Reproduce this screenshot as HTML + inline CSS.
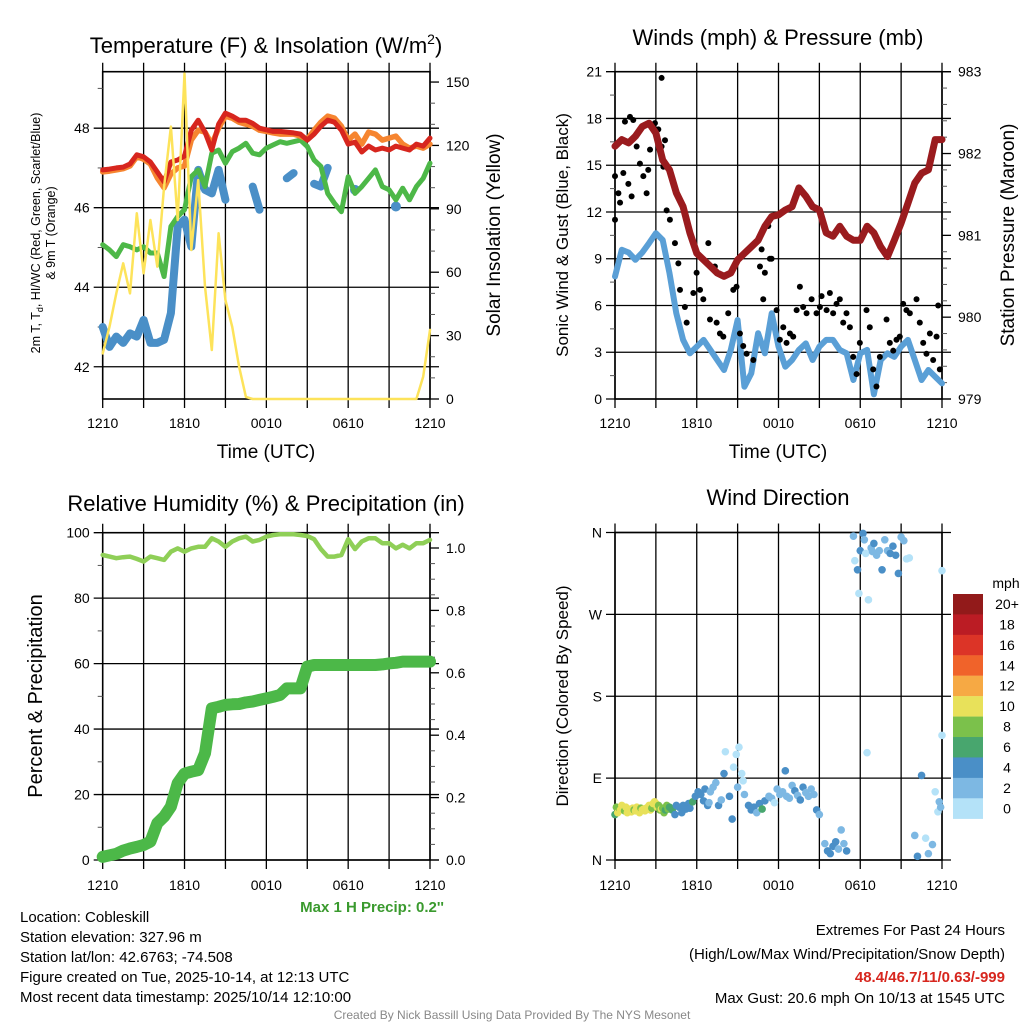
<!DOCTYPE html>
<html><head><meta charset="utf-8">
<style>
html,body{margin:0;padding:0;background:#fff;}
svg{display:block;font-family:"Liberation Sans",Arial,sans-serif;}
</style></head>
<body>
<svg id="chart" width="1024" height="1024" viewBox="0 0 1024 1024" xmlns="http://www.w3.org/2000/svg">
<g id="layer"></g>
</svg>
<script>
// ---------- DATA ----------
// half-hour grid, 0..24 h after 1210 UTC
const tempF = [46.95,46.97,47.0,47.02,47.1,47.33,47.28,47.15,46.9,46.65,47.15,47.2,47.3,47.95,48.2,47.9,47.45,48.1,48.38,48.3,48.2,48.2,48.12,48.0,47.96,47.92,47.92,47.9,47.88,47.85,47.7,47.85,48.05,48.2,48.15,47.95,47.6,47.65,47.4,47.55,47.45,47.5,47.45,47.55,47.5,47.45,47.6,47.55,47.75];
const temp9mF = [46.9,46.92,46.95,46.98,47.05,47.28,47.22,47.1,46.75,46.5,46.85,47.0,47.05,47.7,47.95,47.9,47.6,48.0,48.3,48.25,48.15,48.1,48.05,47.95,47.92,47.88,47.85,47.85,47.85,47.8,47.72,47.95,48.15,48.3,48.25,48.05,47.7,47.85,47.6,47.9,47.85,47.7,47.75,47.8,47.6,47.5,47.55,47.5,47.6];
const dewF = [45.07,44.94,44.77,45.07,45.02,44.94,45.02,44.86,44.86,44.27,45.53,45.78,45.95,46.78,46.95,46.53,47.37,47.45,47.12,47.41,47.5,47.62,47.37,47.33,47.5,47.58,47.66,47.62,47.66,47.7,47.54,47.2,47.04,46.36,46.11,45.9,46.78,46.36,46.53,46.74,46.95,46.53,46.45,46.2,46.49,46.2,46.53,46.74,47.12];
const hiwcF = [43.0,42.5,42.76,42.6,42.84,42.76,43.18,42.6,42.6,42.68,43.35,45.53,45.7,45.02,46.95,46.45,46.36,46.95,46.2,null,null,null,46.53,45.95,null,null,null,46.74,46.87,null,null,46.6,46.53,47.0,null,null,null,46.45,null,null,null,null,null,46.03,null,null,null,null,null];
const insolation = [21.6,34.2,50,64.2,50,87.9,59.5,84.7,62.6,100.5,128.9,84.7,154,70.5,103.6,53.2,23.2,78.4,46.9,34,15.3,1,0,0,0,0,0,0,0,0,0,0,0,0,0,0,0,0,0,0,0,0,0,0,0,0,0,10.6,32.7];
const sonicWind = [7.86,9.57,9.4,8.93,9.4,10.0,10.64,10.2,8.07,5.5,3.79,2.93,3.36,3.79,3.15,2.5,1.86,3.15,5.07,0.79,1.65,4.22,2.93,5.5,3.36,2.07,2.5,3.15,3.57,2.5,3.36,3.79,3.79,3.15,2.93,1.22,2.93,3.15,0.3,2.5,2.93,2.7,3.36,3.79,2.5,1.22,1.86,1.43,1.0];
const pressureMb = [982.09,982.17,982.13,982.21,982.33,982.37,982.25,981.92,981.80,981.52,981.35,981.03,980.78,980.70,980.62,980.54,980.50,980.54,980.70,980.78,980.86,980.94,981.11,981.23,981.25,981.31,981.35,981.58,981.48,981.35,981.31,981.03,980.99,981.11,980.99,980.94,980.94,981.11,981.03,980.86,980.74,980.94,981.15,981.39,981.64,981.76,981.80,982.17,982.17];
const gustHours = [0,0,0.25,0.37,0.73,1.1,1.34,1.59,0.61,0.98,1.22,1.83,2.08,2.32,2.44,2.57,2.93,3.18,3.42,3.42,3.67,3.55,3.79,4.03,4.4,4.65,4.77,5.13,5.26,5.75,5.99,6.24,6.48,6.85,6.97,7.33,7.46,7.7,7.95,8.31,8.68,8.92,9.17,9.41,9.66,10.15,10.64,10.76,11.0,11.25,11.37,11.49,10.88,11.86,12.1,12.35,12.59,12.84,13.08,13.33,13.57,13.81,14.06,14.43,14.79,15.04,15.16,15.53,15.77,16.01,16.26,16.5,16.75,16.99,17.24,17.48,17.73,17.97,18.46,18.7,18.95,19.19,19.44,19.93,20.17,20.42,20.66,20.9,21.15,21.39,21.64,22.13,22.37,22.62,22.86,23.11,23.35,23.6,23.72,23.84];
const gustMph = [11.5,14.3,13.2,12.6,17.8,18.1,17.9,16.2,14.5,13.8,13.0,15.1,14.3,13.2,14.7,16.0,17.7,17.3,20.6,16.2,16.6,14.9,12.1,11.5,10.0,8.7,7.0,5.9,4.9,6.8,8.1,7.0,6.4,10.0,5.1,8.5,4.9,4.2,4.0,5.5,7.0,7.2,4.2,3.4,2.9,2.5,8.5,9.6,8.1,11.1,9.0,9.0,6.4,5.7,3.8,4.6,3.6,4.2,4.0,5.7,7.2,5.9,5.5,6.4,5.5,5.9,6.6,5.7,6.8,5.5,6.1,6.4,4.9,5.5,4.6,2.7,1.6,3.6,5.7,4.6,1.9,0.8,2.7,5.1,3.6,3.1,3.8,4.0,6.1,5.7,5.5,6.4,4.9,3.6,2.9,4.2,2.5,4.0,6.0,1.9];
const rhPct = [93.2,92.7,92.2,92.5,92.7,92.0,91.2,92.7,92.2,91.7,94.2,95.2,94.2,95.2,95.7,95.7,98.3,97.3,95.7,97.3,98.3,98.8,97.3,97.8,98.8,99.3,99.5,99.5,99.5,99.3,99.0,98.0,95.0,92.7,92.7,93.2,98.0,95.0,97.3,98.3,98.3,96.8,96.8,95.2,96.3,95.2,96.8,96.8,97.8];
const precipIn = [0.01,0.015,0.02,0.03,0.037,0.042,0.048,0.059,0.118,0.139,0.171,0.246,0.277,0.283,0.288,0.342,0.486,0.491,0.497,0.499,0.50,0.505,0.508,0.513,0.518,0.523,0.529,0.550,0.550,0.550,0.620,0.625,0.625,0.625,0.625,0.625,0.625,0.625,0.625,0.625,0.625,0.627,0.63,0.632,0.636,0.636,0.636,0.636,0.636];
const dirHours = [0,0.1,0.2,0.3,0.4,0.5,0.6,0.7,0.8,0.9,1.0,1.1,1.2,1.3,1.4,1.5,1.6,1.7,1.8,1.9,2.0,2.1,2.2,2.3,2.4,2.5,2.6,2.7,2.8,2.9,3.0,3.1,3.2,3.3,3.4,3.5,3.6,3.7,3.8,3.9,4.0,4.2,4.4,4.5,4.7,4.9,5.0,5.2,5.4,5.5,5.7,5.9,6.1,6.3,6.5,6.6,6.8,6.9,7.0,7.2,7.4,7.6,7.8,8.0,8.1,8.4,8.6,8.7,8.9,9.0,9.1,9.3,9.4,9.5,9.8,10.0,10.2,10.4,10.6,10.8,11.0,11.3,11.5,11.7,11.9,12.1,12.3,12.5,12.6,12.8,13.0,13.2,13.4,13.6,13.8,14.0,14.2,14.4,14.6,14.8,15.0,15.4,15.6,15.8,16.0,16.2,16.4,16.6,16.8,17.0,17.5,17.6,17.8,17.9,18.0,18.2,18.3,18.4,18.6,18.8,18.9,19.0,19.2,19.4,19.6,19.8,20.0,20.2,20.4,20.6,20.8,21.0,21.2,21.4,21.6,18.5,22.0,22.2,22.5,22.8,23.0,23.3,23.5,23.7,23.8,23.9,24.0,24.0];
const dirDeg = [50,58,52,57,55,60,56,54,58,52,56,55,53,57,55,54,58,56,52,57,55,56,54,57,58,60,55,57,62,64,62,58,60,55,56,57,52,55,60,56,58,55,50,60,58,52,60,56,62,57,64,70,75,72,65,78,60,63,75,80,85,60,66,95,119,70,45,102,116,80,124,95,87,72,60,55,58,52,62,56,65,70,68,63,78,72,75,98,70,68,82,76,71,66,80,74,70,78,72,55,50,18,10,7,15,20,12,33,18,10,356,329,319,293,340,359,352,337,286,343,339,348,335,340,319,352,340,337,345,335,315,355,351,331,332,118,27,4,93,24,7,17,75,53,64,58,137,318];
const dirSpeed = [7,8,10,9,10,11,10,9,10,11,10,10,11,10,9,10,11,10,10,9,10,11,10,10,11,10,10,9,11,10,11,10,9,8,10,9,8,7,9,8,7,6.5,5,5,4.5,5,4.5,5,4.5,5,6.5,5,4.5,5,5,4.5,5,3,3,3,3,4.5,3,4.5,1,4.5,5,1,1,3,1,1,1,3,5,5,4.5,3,5,7,4.5,3,3,1,3,3,3,4.5,3,3,3,4.5,3,4.5,4.5,3,3,3,3,4.5,3,3,4.5,4.5,4.5,4.5,3,3,3,4.5,3,1,4.5,1,4.5,4.5,3,1,1,3,3,4.5,3,3,4.5,3,3,4.5,4.5,4.5,4.5,3,3,1,1,1,3,4.5,4.5,1,3,3,1,1,3,3,1,1];
const speedBins = ["0","2","4","6","8","10","12","14","16","18","20+"];
const speedColors = ["#b4e2f8","#7db8e3","#4a8fc7","#48a66e","#7bc14b","#e8e15a","#f6a944","#f0632a","#dc3427","#bb1c24","#921a1a"];
const tempTicks = [42,44,46,48];
const insolTicks = [0,30,60,90,120,150];
const windTicks = [0,3,6,9,12,15,18,21];
const presTicks = [979,980,981,982,983];
const rhTicks = [0,20,40,60,80,100];
const precipTicks = [0.0,0.2,0.4,0.6,0.8,1.0];
const dirTicks = [0,90,180,270,360];
const dirTickLabels = ["N","E","S","W","N"];
const timeLabels = ["1210","1810","0010","0610","1210"];

// ---------- HELPERS ----------
const NS="http://www.w3.org/2000/svg";
const root=document.getElementById('layer');
function mk(tag, attrs, parent){const e=document.createElementNS(NS,tag);for(const k in attrs)e.setAttribute(k,attrs[k]);(parent||root).appendChild(e);return e;}
function txt(s, attrs, parent){const e=mk('text',attrs,parent);e.textContent=s;return e;}

const P1={L:102.7,R:430,T:71.7,B:399};
const P2={L:615,R:942,T:71.7,B:399};
const P3={L:102.7,R:430,T:532.7,B:860};
const P4={L:615,R:942,T:532.5,B:860};
function xS(P,h){return P.L+h*(P.R-P.L)/24;}
const t1=v=>P1.B-(v-41.19)/(49.42-41.19)*(P1.B-P1.T);
const s1=v=>P1.B-v*2.113;
const w2=v=>P2.B-v*(P2.B-P2.T)/21;
const p2=v=>P2.B-(v-979)*(P2.B-P2.T)/4;
const rh3=v=>P3.B-v*(P3.B-P3.T)/100;
const pr3=v=>P3.B-v*312;
const d4=v=>P4.B-v*(P4.B-P4.T)/360;

function grid(P,g,yVals,yS){
  for(let i=0;i<=8;i++){const x=P.L+i*(P.R-P.L)/8;
    const l=mk('line',{x1:x,x2:x,y1:P.T-9,y2:P.B+9,stroke:'#000','stroke-width':1.3},g);
    
    }
  yVals.forEach(v=>{const y=yS(v);
    const l=mk('line',{x1:P.L-9,x2:P.R+9,y1:y,y2:y,stroke:'#000','stroke-width':1.3},g);
    
    });
  const b=mk('rect',{x:P.L,y:P.T,width:P.R-P.L,height:P.B-P.T,fill:'none',stroke:'#000','stroke-width':1.6},g);
  
  
}
function minorTicks(g,x,dir,vals,yS){
  vals.forEach(v=>{const y=yS(v);
    const l=mk('line',{x1:x,x2:x+dir*5,y1:y,y2:y,stroke:'#555','stroke-width':1},g);
    
    });
}
function majorTicksR(g,P,vals,yS,labels){
  vals.forEach((v,i)=>{const y=yS(v);
    const l=mk('line',{x1:P.R,x2:P.R+9,y1:y,y2:y,stroke:'#000','stroke-width':1.3},g);
    
    
    const t=txt(labels[i],{x:P.R+16,y:y+5,'font-size':14},g);
    
    });
}
function leftLabels(g,P,vals,yS,labels){
  vals.forEach((v,i)=>{const t=txt(labels[i],{x:P.L-13,y:yS(v)+5,'font-size':14,'text-anchor':'end'},g);
    
    });
}
function timeAxis(g,P,yy){
  timeLabels.forEach((s,i)=>{const t=txt(s,{x:xS(P,i*6),y:yy,'font-size':14,'text-anchor':'middle'},g);
    
    });
}
function linePath(vals,P,yS){
  let d='',pen=false,singles=[];
  vals.forEach((v,i)=>{
    if(v===null){pen=false;return;}
    const x=xS(P,i*0.5),y=yS(v);
    const prevNull=(i===0||vals[i-1]===null), nextNull=(i===vals.length-1||vals[i+1]===null);
    if(prevNull&&nextNull)singles.push([x,y]);
    d+=(pen?'L':'M')+x.toFixed(1)+','+y.toFixed(1);pen=true;});
  return {d,singles};
}
function drawLine(g,vals,P,yS,color,w,name){
  const r=linePath(vals,P,yS);
  const p=mk('path',{d:r.d,fill:'none',stroke:color,'stroke-width':w,'stroke-linejoin':'round','stroke-linecap':'round'},g);
  
  
  r.singles.forEach(s=>{const c=mk('circle',{cx:s[0],cy:s[1],r:w/2+1,fill:color},g);
    
    });
}
function title(s,x,y,size){const t=txt(s,{x:x,y:y,'font-size':size,'text-anchor':'middle'});return t;}
function rotLabel(s,x,y,size,g){const t=txt(s,{x:0,y:0,'font-size':size,'text-anchor':'middle',transform:`translate(${x},${y}) rotate(-90)`},g);return t;}

// ---------- PANEL 1 ----------
const g1=mk('g',{});


grid(P1,g1,tempTicks,t1);
minorTicks(g1,P1.L,-1,[43,45,47,49],t1);
minorTicks(g1,P1.R,1,[10,20,40,50,70,80,100,110,130,140],s1);
leftLabels(g1,P1,tempTicks,t1,tempTicks.map(String));
majorTicksR(g1,P1,insolTicks,s1,insolTicks.map(String));
timeAxis(g1,P1,428);
drawLine(g1,hiwcF,P1,t1,'#4a8fc7',8,'hiwc-line');
drawLine(g1,dewF,P1,t1,'#4db848',5,'dewpoint-line');
drawLine(g1,temp9mF,P1,t1,'#f68530',5.5,'temp-9m-line');
drawLine(g1,tempF,P1,t1,'#d7261e',5,'temp-2m-line');
drawLine(g1,insolation,P1,s1,'#fde35a',2.5,'insolation-line');
const tt1=txt('',{x:266,y:53,'font-size':22,'text-anchor':'middle'});
tt1.innerHTML='Temperature (F) &amp; Insolation (W/m<tspan dy="-9" font-size="14">2</tspan><tspan dy="9">)</tspan>';


const xt1=txt('Time (UTC)',{x:266,y:458,'font-size':19,'text-anchor':'middle'});


const yl1=txt('',{x:0,y:0,'font-size':12.5,'text-anchor':'middle',transform:'translate(40,233) rotate(-90)'});
yl1.innerHTML='2m T, T<tspan dy="3" font-size="9">d</tspan><tspan dy="-3">, HI/WC (Red, Green, Scarlet/Blue)</tspan>';


const yl1b=rotLabel('& 9m T (Orange)',55,233,12.5);


const yr1=txt('Solar Insolation (Yellow)',{x:0,y:0,'font-size':19,'text-anchor':'middle',transform:'translate(500,235) rotate(-90)'});



// ---------- PANEL 2 ----------
const g2=mk('g',{});


grid(P2,g2,windTicks,w2);
minorTicks(g2,P2.L,-1,[1.5,4.5,7.5,10.5,13.5,16.5,19.5],w2);
minorTicks(g2,P2.R,1,[979.2,979.4,979.6,979.8,980.2,980.4,980.6,980.8,981.2,981.4,981.6,981.8,982.2,982.4,982.6,982.8],p2);
leftLabels(g2,P2,windTicks,w2,windTicks.map(String));
majorTicksR(g2,P2,presTicks,p2,presTicks.map(String));
timeAxis(g2,P2,428);
drawLine(g2,sonicWind,P2,w2,'#5a9fd6',6,'sonic-wind-line');
gustHours.forEach((h,i)=>{const c=mk('circle',{cx:xS(P2,h),cy:w2(gustMph[i]),r:3,fill:'#000'},g2);
  
  });
drawLine(g2,pressureMb,P2,p2,'#9a1b1e',7,'pressure-line');
const tt2=title('Winds (mph) & Pressure (mb)',778,45,22);


const xt2=txt('Time (UTC)',{x:778,y:458,'font-size':19,'text-anchor':'middle'});


const yl2=rotLabel('Sonic Wind & Gust (Blue, Black)',568,235,17);


const yr2=txt('Station Pressure (Maroon)',{x:0,y:0,'font-size':19,'text-anchor':'middle',transform:'translate(1014,235) rotate(-90)'});



// ---------- PANEL 3 ----------
const g3=mk('g',{});


grid(P3,g3,rhTicks,rh3);
minorTicks(g3,P3.L,-1,[10,30,50,70,90],rh3);
minorTicks(g3,P3.R,1,[0.05,0.1,0.15,0.25,0.3,0.35,0.45,0.5,0.55,0.65,0.7,0.75,0.85,0.9,0.95],pr3);
leftLabels(g3,P3,rhTicks,rh3,rhTicks.map(String));
majorTicksR(g3,P3,precipTicks,pr3,precipTicks.map(v=>v.toFixed(1)));
timeAxis(g3,P3,890);
drawLine(g3,rhPct,P3,rh3,'#8fcf57',4.5,'rh-line');
drawLine(g3,precipIn,P3,pr3,'#4cb848',12,'precip-line');
const tt3=title('Relative Humidity (%) & Precipitation (in)',266,511,22);


const yl3=rotLabel('Percent & Precipitation',42,696,20);


const mp=txt("Max 1 H Precip: 0.2''",{x:444,y:912,'font-size':15,'font-weight':'bold',fill:'#3a9a2e','text-anchor':'end'});



// ---------- PANEL 4 ----------
const g4=mk('g',{});


grid(P4,g4,dirTicks,d4);
leftLabels(g4,P4,dirTicks,d4,dirTickLabels);
timeAxis(g4,P4,890);
function binOf(s){return Math.min(10,Math.floor(s/2));}
dirHours.forEach((h,i)=>{const c=mk('circle',{cx:xS(P4,h),cy:d4(dirDeg[i]),r:3.8,fill:speedColors[binOf(dirSpeed[i])]},g4);
  
  });
const tt4=title('Wind Direction',778,505,22);


const yl4=rotLabel('Direction (Colored By Speed)',568,696,17);


const lg=mk('g',{});


const lu=txt('mph',{x:1006,y:588,'font-size':14,'text-anchor':'middle'},lg);


speedBins.forEach((s,i)=>{const j=10-i;const y=594+i*20.43;
  const r=mk('rect',{x:953,y:y,width:30,height:20.6,fill:speedColors[j]},lg);
  
  
  const t=txt(speedBins[j],{x:1007,y:y+15,'font-size':14,'text-anchor':'middle'},lg);
  
  });

// ---------- FOOTER ----------
const leftLines=['Location: Cobleskill','Station elevation: 327.96 m','Station lat/lon: 42.6763; -74.508','Figure created on Tue, 2025-10-14, at 12:13 UTC','Most recent data timestamp: 2025/10/14 12:10:00'];
leftLines.forEach((s,i)=>{const t=txt(s,{x:20,y:922+i*20,'font-size':15});
  
  });
const ex1=txt('Extremes For Past 24 Hours',{x:1005,y:935,'font-size':15,'text-anchor':'end'});


const ex2=txt('(High/Low/Max Wind/Precipitation/Snow Depth)',{x:1005,y:959,'font-size':15,'text-anchor':'end'});


const ex3=txt('48.4/46.7/11/0.63/-999',{x:1005,y:982,'font-size':15,'font-weight':'bold',fill:'#d7261e','text-anchor':'end'});


const ex4=txt('Max Gust: 20.6 mph On 10/13 at 1545 UTC',{x:1005,y:1003,'font-size':15,'text-anchor':'end'});


const cr=txt('Created By Nick Bassill Using Data Provided By The NYS Mesonet',{x:512,y:1019,'font-size':12,fill:'#888','text-anchor':'middle'});


</script>
</body></html>
